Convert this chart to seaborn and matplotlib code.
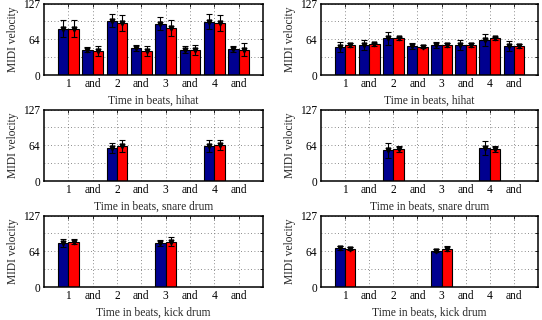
import numpy as np
import pandas as pd
import matplotlib
matplotlib.use("Agg")
import matplotlib.pyplot as plt
import seaborn as sns

sns.set_theme(style="white")
plt.rcParams['font.family'] = ['Liberation Serif', 'DejaVu Serif']

# ---- data ----
beats = ["1", "1&", "2", "2&", "3", "3&", "4", "4&"]
tick_labels = ["1", "and", "2", "and", "3", "and", "4", "and"]
series = ["series A", "series B"]
colors = ["#000090", "#FF0000"]

hihat_L_a = [83, 45.5, 97, 48.5, 92, 45.5, 95.5, 46.5]
hihat_L_b = [83, 42.5, 93.5, 43, 84, 45.5, 93.5, 45.5]
hihat_L_ea = [15, 5, 12, 6, 11, 6, 13.5, 6]
hihat_L_eb = [15, 9, 14, 9, 14, 9, 14, 11]

hihat_R_a = [50.5, 53.5, 65.5, 52.5, 53.5, 53.5, 62.5, 52.5]
hihat_R_b = [53.5, 55, 65.5, 50.5, 53.5, 53.5, 65.5, 51.5]
hihat_R_ea = [9, 9, 12, 5.5, 6, 9, 11, 9]
hihat_R_eb = [3, 3, 3, 3, 3, 3, 3, 3.5]

snare_beats = ["2", "4"]
snare_L_a = [59, 62.5]
snare_L_b = [62.5, 65]
snare_L_ea = [9.5, 11]
snare_L_eb = [10, 9]
snare_R_a = [55, 59]
snare_R_b = [57, 57]
snare_R_ea = [13.5, 12.5]
snare_R_eb = [6, 6]

kick_beats = ["1", "3"]
kick_L_a = [78.5, 78.5]
kick_L_b = [81, 81]
kick_L_ea = [7, 6]
kick_L_eb = [4.5, 8]
kick_R_a = [70, 65]
kick_R_b = [68.5, 68.5]
kick_R_ea = [3.5, 3]
kick_R_eb = [3, 4]

yticks = [0, 32, 64, 96, 127]
ytick_labels = ["0", "", "64", "", "127"]

panels = [
    (hihat_L_a, hihat_L_b, hihat_L_ea, hihat_L_eb, beats, "Time in beats, hihat"),
    (hihat_R_a, hihat_R_b, hihat_R_ea, hihat_R_eb, beats, "Time in beats, hihat"),
    (snare_L_a, snare_L_b, snare_L_ea, snare_L_eb, snare_beats, "Time in beats, snare drum"),
    (snare_R_a, snare_R_b, snare_R_ea, snare_R_eb, snare_beats, "Time in beats, snare drum"),
    (kick_L_a, kick_L_b, kick_L_ea, kick_L_eb, kick_beats, "Time in beats, kick drum"),
    (kick_R_a, kick_R_b, kick_R_ea, kick_R_eb, kick_beats, "Time in beats, kick drum"),
]

W, H = 542, 320
fig = plt.figure(figsize=(W / 100, H / 100), dpi=100)
cols = [(44, 263), (321, 538)]
rows = [(4, 75), (110, 181), (216, 287)]

for i, (va, vb, ea, eb, bts, xlabel) in enumerate(panels):
    r, c = divmod(i, 2)
    x0, x1 = cols[c]
    y0, y1 = rows[r]
    ax = fig.add_axes([x0 / W, 1 - y1 / H, (x1 - x0) / W, (y1 - y0) / H])
    df = pd.DataFrame({
        "beat": list(bts) * 2,
        "vel": list(va) + list(vb),
        "series": [series[0]] * len(bts) + [series[1]] * len(bts),
    })
    sns.barplot(data=df, x="beat", y="vel", hue="series", order=beats,
                hue_order=series, palette=colors, width=0.86, errorbar=None,
                edgecolor="black", linewidth=0.8, saturation=1, legend=False,
                ax=ax, zorder=2)
    for cont, vals, errs in zip(ax.containers, [va, vb], [ea, eb]):
        xs = [p.get_x() + p.get_width() / 2 for p in cont.patches]
        ax.errorbar(xs, vals, yerr=errs, fmt="v", color="black", ms=3.5,
                    elinewidth=0.8, capsize=2.2, capthick=0.8, zorder=3)
    ax.set_xlim(-1, 8)
    ax.set_ylim(0, 127)
    ax.set_xticks(range(len(beats)))
    ax.set_xticklabels(tick_labels, fontsize=8.3)
    ax.set_yticks(yticks)
    ax.set_yticklabels(ytick_labels, fontsize=8.3)
    ax.set_xlabel(xlabel, fontsize=8.3, labelpad=3)
    ax.set_ylabel("MIDI velocity", fontsize=8.3, labelpad=3)
    ax.set_axisbelow(True)
    ax.grid(True, linestyle=(0, (1, 3)), color="#666666", linewidth=0.6)
    ax.tick_params(direction="in", top=True, right=True, length=2.5,
                   width=0.6, pad=2.5, colors="black")
    for s in ax.spines.values():
        s.set_visible(True)
        s.set_color("black")
        s.set_linewidth(1.1)

fig.savefig("out.png", dpi=100)
